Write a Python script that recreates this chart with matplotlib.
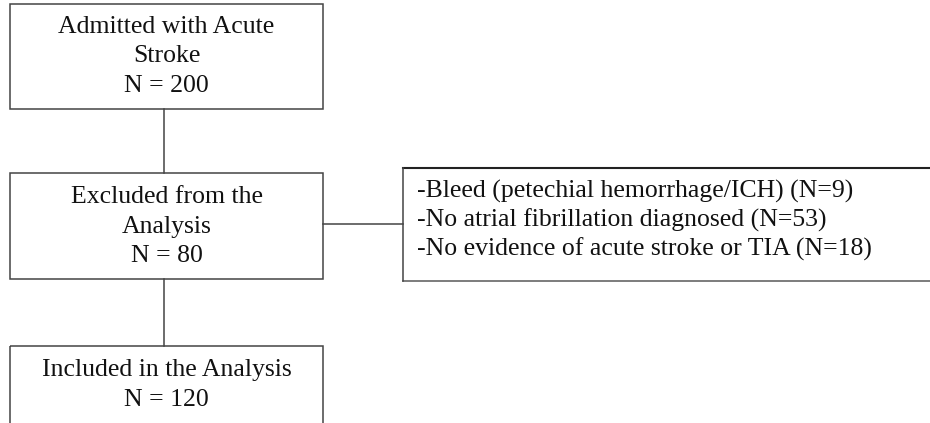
import matplotlib.pyplot as plt
from matplotlib.patches import Rectangle

# flow stages and counts
stages = ["Admitted with Acute\nStroke", "Excluded from the\nAnalysis", "Included in the Analysis"]
stage_n = [200, 80, 120]

# exclusion reasons
reasons = ["Bleed (petechial hemorrhage/ICH)", "No atrial fibrillation diagnosed",
           "No evidence of acute stroke or TIA"]
reason_n = [9, 53, 18]

plt.rcParams['font.family'] = ['Liberation Serif', 'DejaVu Serif']
fs = 18.5
edge = '#444444'
txt = '#111111'

fig = plt.figure(figsize=(9.3, 4.23), dpi=100)
ax = fig.add_axes([0, 0, 1, 1])
ax.set_xlim(0, 930)
ax.set_ylim(423, 0)
ax.axis('off')

# left column boxes (x0, y0, x1, y1) in pixels
boxes = [(10, 4, 323, 109), (10, 173, 323, 279), (10, 346, 323, 480)]
text_y = [(27, 56, 86), (197, 227, 256), (370, 400)]
for (x0, y0, x1, y1), lab, n, ys in zip(boxes, stages, stage_n, text_y):
    ax.add_patch(Rectangle((x0, y0), x1 - x0, y1 - y0, fill=False, ec=edge, lw=1.1))
    lines = lab.split("\n") + [f"N = {n}"]
    for s, yy in zip(lines, ys):
        ax.text((x0 + x1) / 2, yy, s, ha='center', va='center', fontsize=fs, color=txt)

# vertical connectors
cx = 164
ax.plot([cx, cx], [109, 173], color=edge, lw=1.1)
ax.plot([cx, cx], [279, 346], color=edge, lw=1.1)

# horizontal connector to exclusion box
ax.plot([323, 403], [224, 224], color=edge, lw=1.1)

# exclusion box (runs past right edge)
rx0, ry0, ry1 = 403, 168, 281
ax.plot([rx0, 960], [ry0, ry0], color='#222222', lw=1.5)
ax.plot([rx0, 960], [ry1, ry1], color='#666666', lw=1.2)
ax.plot([rx0, rx0], [ry0, ry1], color=edge, lw=1.1)
for i, (r, n) in enumerate(zip(reasons, reason_n)):
    ax.text(417, 191 + 29 * i, f"-{r} (N={n})", ha='left', va='center',
            fontsize=fs, color=txt)

fig.savefig('out.png', dpi=100)
